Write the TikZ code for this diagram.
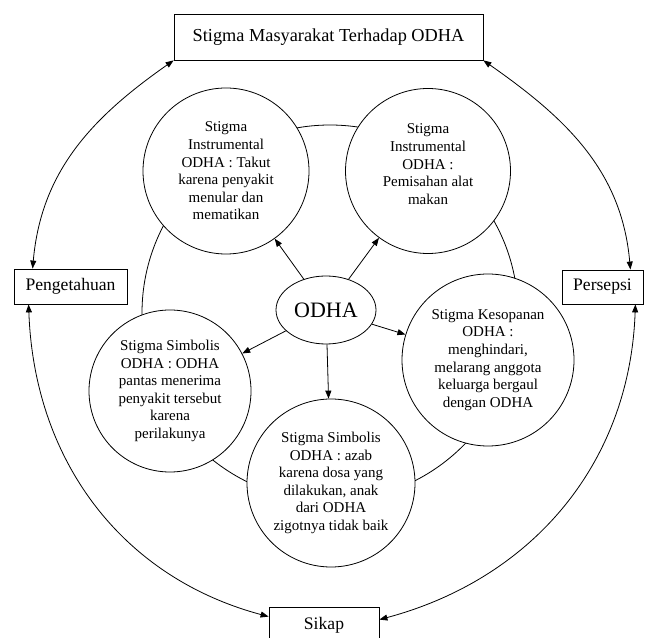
\documentclass[tikz,border=0pt]{standalone}
\usepackage{fontspec}
\setmainfont{Liberation Serif}
\usepackage{tikz}
\usetikzlibrary{arrows.meta, shapes.geometric}

\begin{document}
\begin{tikzpicture}[x=1pt, y=1pt, line width=0.8pt,
    >={Triangle[length=8pt, width=6pt]},
    kotak/.style={draw, rectangle, fill=white, inner sep=0pt},
    stigma/.style={draw, circle, fill=white, inner sep=0pt, minimum size=166pt,
        align=center, font=\fontsize{15}{17.6}\selectfont}]
    \useasboundingbox (0,0) rectangle (647,637);

    % lingkaran besar di belakang
    \coordinate (pusat) at (330,324);
    \draw (pusat) circle[radius=188pt];

    % kotak luar
    \node[kotak, minimum width=309pt, minimum height=46pt, font=\fontsize{18.3}{20}\selectfont] (judul) at (328.5,600) {Stigma Masyarakat Terhadap ODHA};
    \node[kotak, minimum width=113pt, minimum height=35pt, font=\fontsize{17.6}{20}\selectfont] (tahu) at (70.5,350.5) {Pengetahuan};
    \node[kotak, minimum width=81pt, minimum height=34pt, font=\fontsize{17.6}{20}\selectfont] (persepsi) at (602.5,350) {Persepsi};
    \node[kotak, minimum width=110pt, minimum height=36pt, font=\fontsize{17.6}{20}\selectfont] (sikap) at (324,12) {Sikap};

    % lingkaran stigma
    \node[stigma] (takut) at (226,466) {Stigma\\Instrumental\\ODHA : Takut\\karena penyakit\\menular dan\\mematikan};
    \node[stigma, minimum size=165pt] (pisah) at (428,466) {Stigma\\Instrumental\\ODHA :\\Pemisahan alat\\makan\\[-4pt]\mbox{}};
    \node[stigma, minimum size=172pt] (sopan) at (488,277) {Stigma Kesopanan\\ODHA :\\menghindari,\\melarang anggota\\keluarga bergaul\\dengan ODHA};
    \node[stigma, minimum size=162pt] (simbolA) at (170,246) {Stigma Simbolis\\ODHA : ODHA\\pantas menerima\\penyakit tersebut\\karena\\perilakunya};
    \node[stigma, minimum size=168pt] (simbolB) at (331,154) {Stigma Simbolis\\ODHA : azab\\karena dosa yang\\dilakukan, anak\\dari ODHA\\zigotnya tidak baik};

    % pusat
    \node[draw, ellipse, fill=white, minimum width=100pt, minimum height=68pt, inner sep=0pt,
        font=\fontsize{22}{24}\selectfont] (odha) at (326,327) {ODHA};

    % panah dari ODHA
    \draw[->] (odha) -- (takut);
    \draw[->] (odha) -- (pisah);
    \draw[->] (odha) -- (sopan);
    \draw[->] (odha) -- (simbolA);
    \draw[->] (odha) -- (simbolB);

    % panah luar
    \draw[<->] (judul.south west) to[out=215, in=85] ([xshift=19pt]tahu.north west);
    \draw[<->] (judul.south east) to[out=-35, in=95] ([xshift=-13pt]persepsi.north east);
    \draw[<->] ([xshift=15pt]tahu.south west) to[out=-88, in=165] ([yshift=-10pt]sikap.north west);
    \draw[<->] ([xshift=-8pt]persepsi.south east) to[out=-92, in=15] ([yshift=-13pt]sikap.north east);
\end{tikzpicture}
\end{document}
